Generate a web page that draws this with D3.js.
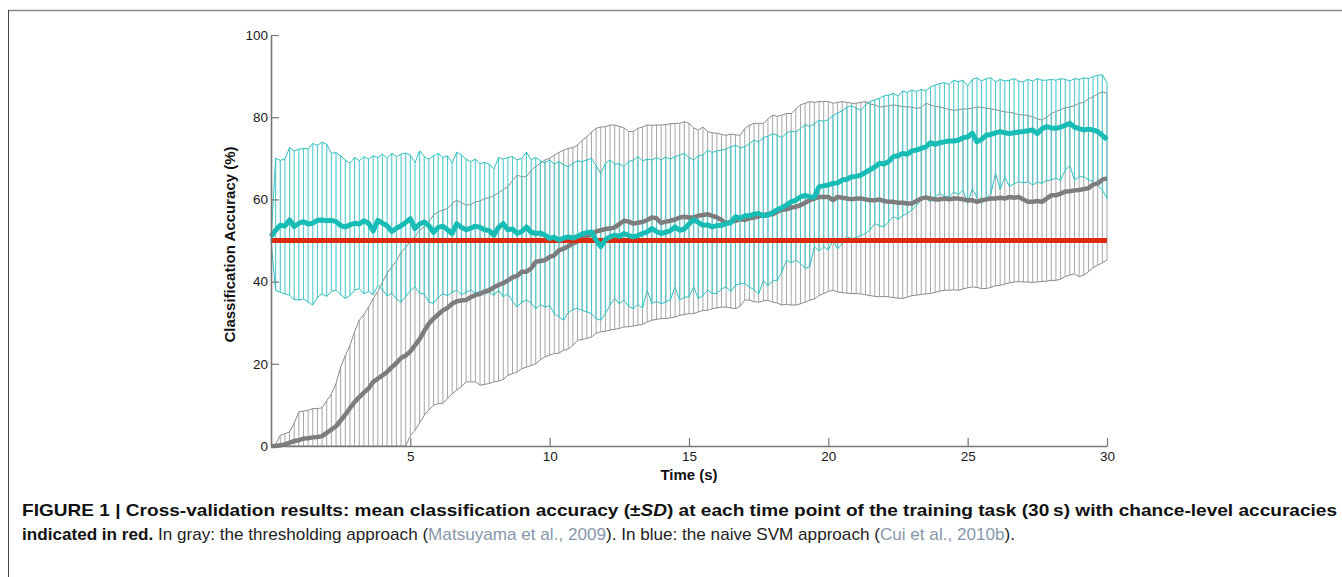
<!DOCTYPE html>
<html>
<head>
<meta charset="utf-8">
<script src="https://cdn.jsdelivr.net/npm/d3@7"></script>
<style>
    body { margin: 0; background: #fff; }
    svg text { font-family: 'Liberation Sans', Arial, Helvetica, sans-serif; }
    .caption { font-family: 'Liberation Sans Narrow', 'Arial Narrow', 'Liberation Sans', Arial, sans-serif; }
</style>
</head>
<body>
<div id="wrapper"></div>
<script>

// samples every 1/6 s from 0 to 30 s
const sampleRate = 6;

// thresholding approach (gray): mean and mean +/- SD
const grayMean = [0,
    0.0, 0.2, 0.4, 0.8, 1.2, 1.4, 1.8, 1.9, 2.1, 2.2, 2.4, 3.2,
    4.0, 4.8, 6.2, 7.6, 9.2, 10.7, 11.9, 13.0, 14.0, 15.6, 16.4, 17.2,
    18.0, 19.2, 20.2, 21.4, 22.0, 23.0, 24.5, 26.0, 28.0, 29.8, 31.0, 32.0,
    33.0, 33.6, 34.6, 35.2, 35.4, 35.5, 36.2, 36.7, 37.0, 37.6, 37.9, 38.6,
    39.2, 39.6, 40.3, 41.0, 41.4, 42.4, 42.4, 43.2, 44.8, 45.0, 45.2, 46.0,
    46.4, 47.6, 48.0, 48.6, 49.3, 49.8, 50.5, 50.9, 51.6, 52.2, 52.5, 52.8,
    52.9, 53.2, 54.0, 54.8, 54.6, 54.1, 54.3, 54.5, 55.0, 55.6, 55.4, 54.3,
    54.6, 54.8, 55.1, 55.6, 55.8, 55.6, 55.6, 56.0, 56.2, 56.4, 56.0, 55.6,
    55.0, 54.1, 54.6, 54.8, 55.2, 55.0, 55.4, 55.6, 55.9, 56.2, 56.4, 56.4,
    57.0, 57.5, 57.6, 58.0, 58.2, 58.6, 59.2, 59.8, 60.2, 60.6, 60.6, 60.6,
    59.8, 60.6, 60.4, 60.2, 60.0, 60.2, 60.2, 60.0, 59.8, 59.8, 60.0, 59.6,
    59.4, 59.4, 59.2, 59.2, 59.0, 59.0, 59.6, 60.2, 60.5, 60.2, 60.0, 60.0,
    60.2, 60.0, 60.2, 60.2, 60.0, 59.8, 59.8, 59.4, 59.8, 60.0, 60.2, 60.2,
    60.4, 60.2, 60.6, 60.4, 60.6, 60.0, 59.4, 59.4, 59.6, 59.4, 60.2, 61.0,
    61.0, 61.4, 61.9, 62.0, 62.2, 62.3, 62.5, 62.7, 63.6, 63.9, 64.8, 65.1
];

const grayUpper = [0,
    0.5, 2.6, 3.0, 3.4, 5.6, 8.3, 8.5, 8.7, 9.1, 9.1, 9.3, 11.0,
    12.7, 15.2, 19.2, 22.0, 24.5, 27.8, 30.6, 32.0, 33.8, 35.9, 37.6, 39.9,
    42.0, 43.6, 45.0, 47.2, 48.2, 50.0, 50.9, 52.5, 53.4, 54.6, 56.2, 57.0,
    57.4, 57.8, 59.0, 59.8, 59.2, 58.6, 58.8, 59.4, 59.6, 60.2, 60.4, 61.0,
    61.6, 62.4, 63.1, 64.6, 65.9, 65.5, 65.5, 67.1, 68.0, 68.8, 69.6, 70.0,
    70.8, 71.4, 72.0, 72.4, 72.6, 73.2, 74.4, 75.2, 76.4, 77.3, 77.6, 77.7,
    78.1, 78.1, 77.8, 77.4, 76.5, 76.5, 77.3, 77.6, 78.1, 78.0, 78.1, 78.1,
    78.2, 78.4, 78.5, 78.5, 78.9, 78.5, 77.4, 76.9, 77.6, 76.5, 76.2, 76.1,
    75.8, 75.6, 75.9, 75.7, 75.6, 77.2, 78.1, 78.5, 78.5, 78.5, 79.6, 80.5,
    80.2, 80.5, 80.9, 80.9, 82.0, 83.0, 83.4, 83.8, 83.6, 83.8, 83.8, 83.8,
    83.4, 83.6, 83.8, 83.6, 83.4, 83.4, 83.6, 83.8, 83.2, 83.0, 82.5, 82.6,
    82.8, 83.0, 82.8, 82.6, 82.5, 82.5, 82.1, 82.4, 83.4, 83.0, 82.6, 82.5,
    82.2, 81.9, 81.7, 81.8, 82.0, 82.0, 82.2, 82.5, 82.4, 82.2, 82.0, 81.8,
    81.6, 81.3, 81.2, 81.0, 80.6, 80.6, 80.4, 80.1, 79.6, 79.3, 80.0, 80.9,
    81.4, 81.8, 82.3, 82.5, 82.8, 83.4, 83.6, 84.4, 85.0, 85.6, 86.2, 85.8
];

const grayLower = [0,
    0, 0, 0, 0, 0, 0, 0, 0, 0, 0, 0, 0,
    0, 0, 0, 0, 0, 0, 0, 0, 0, 0, 0, 0,
    0, 0, 0, 0, 0, 2.5, 3.8, 5.6, 7.5, 8.8, 9.9, 10.3,
    10.4, 11.5, 12.7, 13.6, 14.4, 15.6, 15.6, 15.6, 14.8, 15.0, 15.2, 15.6,
    15.8, 16.2, 17.2, 17.6, 18.0, 18.8, 19.2, 19.6, 20.0, 21.0, 21.7, 22.1,
    22.5, 22.6, 23.3, 23.6, 24.5, 25.7, 25.9, 26.2, 26.5, 27.4, 27.8, 27.9,
    28.2, 28.4, 28.6, 29.0, 29.0, 29.2, 29.4, 29.6, 30.2, 30.6, 30.8, 31.0,
    31.0, 31.2, 31.4, 31.8, 32.0, 32.2, 32.2, 32.6, 33.0, 33.0, 33.4, 33.6,
    33.8, 33.8, 33.6, 33.4, 34.0, 35.5, 35.5, 35.1, 35.0, 35.3, 35.5, 35.0,
    34.8, 34.3, 34.5, 34.3, 34.3, 34.6, 35.0, 35.5, 35.8, 36.6, 37.1, 37.6,
    37.9, 37.5, 37.3, 37.2, 37.1, 37.1, 37.0, 36.8, 36.6, 36.4, 36.3, 36.4,
    36.3, 36.1, 36.0, 35.9, 36.2, 36.6, 36.7, 36.9, 37.0, 37.1, 37.4, 37.7,
    37.9, 37.9, 38.0, 37.9, 38.2, 38.5, 38.7, 38.6, 38.3, 38.3, 38.6, 39.0,
    39.1, 39.4, 39.7, 39.9, 40.0, 39.9, 39.9, 39.8, 39.9, 40.0, 40.1, 40.3,
    40.3, 40.6, 41.2, 41.6, 41.9, 41.2, 41.6, 42.4, 43.4, 44.0, 44.6, 45.2
];

// naive SVM approach (blue): mean and mean +/- SD
const cyanMean = [51,
    52.5, 53.7, 53.5, 55.0, 53.4, 54.2, 54.6, 54.0, 54.2, 54.9, 55.0, 54.8,
    54.9, 54.6, 53.6, 53.3, 53.8, 54.2, 54.0, 54.8, 54.2, 52.3, 54.9, 54.2,
    53.6, 52.2, 53.0, 53.6, 54.4, 55.3, 52.9, 54.0, 54.5, 53.6, 52.0, 53.2,
    53.5, 52.6, 51.7, 54.1, 53.2, 52.6, 53.0, 53.5, 53.2, 52.6, 52.4, 51.3,
    53.2, 54.1, 52.6, 52.8, 51.7, 52.2, 53.3, 52.0, 51.7, 51.8, 51.3, 50.5,
    50.8, 50.1, 50.6, 50.9, 50.6, 51.0, 51.6, 51.9, 52.1, 50.1, 48.5, 50.2,
    50.9, 51.3, 51.0, 51.7, 51.2, 50.9, 51.2, 51.7, 52.1, 52.9, 52.2, 51.7,
    52.0, 52.4, 53.3, 52.5, 52.8, 54.0, 55.1, 54.4, 53.7, 53.8, 53.3, 53.6,
    53.7, 54.1, 54.3, 55.8, 55.4, 56.0, 56.0, 56.4, 56.6, 56.0, 56.2, 56.8,
    57.5, 58.0, 58.6, 59.4, 59.8, 60.6, 61.0, 60.6, 60.6, 63.1, 63.3, 63.5,
    63.9, 64.0, 64.7, 64.9, 65.5, 65.6, 65.9, 66.6, 67.2, 67.9, 68.8, 68.6,
    69.2, 70.4, 70.6, 71.2, 71.0, 71.8, 72.0, 72.4, 72.8, 73.8, 73.4, 73.8,
    74.0, 74.2, 74.2, 74.4, 75.0, 75.2, 76.1, 74.0, 74.6, 75.6, 75.8, 76.2,
    76.5, 76.2, 76.0, 76.2, 76.4, 76.5, 76.7, 76.9, 76.0, 77.2, 77.7, 77.4,
    77.3, 77.6, 78.0, 78.5, 77.6, 77.2, 76.9, 77.1, 76.9, 76.5, 75.6, 74.6
];

const cyanUpper = [50,
    70.0, 69.5, 69.8, 72.6, 71.8, 72.2, 72.4, 72.3, 73.6, 73.2, 73.9, 73.4,
    71.2, 71.4, 70.6, 69.6, 68.8, 70.2, 69.4, 70.4, 69.8, 70.6, 70.2, 71.0,
    70.0, 71.2, 70.4, 71.0, 71.3, 70.8, 68.9, 71.8, 70.4, 69.8, 70.6, 71.2,
    70.2, 70.6, 68.9, 71.5, 70.8, 69.8, 69.2, 69.8, 68.7, 69.0, 68.6, 67.4,
    70.2, 69.8, 70.2, 70.4, 69.6, 70.0, 71.5, 69.6, 70.2, 69.4, 68.9, 69.6,
    68.6, 69.2, 68.4, 68.0, 68.8, 69.4, 69.2, 69.6, 70.0, 68.2, 66.3, 68.8,
    69.6, 68.6, 68.7, 68.0, 69.2, 69.6, 70.4, 69.4, 69.8, 69.6, 70.2, 69.6,
    70.3, 69.8, 70.4, 70.8, 71.2, 70.2, 69.6, 70.6, 70.8, 72.0, 71.4, 71.8,
    72.0, 72.3, 72.8, 73.2, 72.6, 72.8, 73.6, 74.4, 74.0, 75.0, 75.4, 76.0,
    75.6, 75.0, 76.2, 76.6, 76.4, 77.2, 78.2, 77.8, 78.4, 79.3, 79.0, 79.4,
    80.4, 81.0, 81.6, 82.4, 82.8, 82.2, 81.7, 83.0, 83.8, 84.2, 84.6, 85.2,
    85.4, 85.8, 85.2, 86.4, 86.0, 86.6, 86.2, 86.8, 86.4, 87.4, 87.8, 88.2,
    88.4, 88.0, 89.0, 88.6, 89.0, 87.6, 89.2, 89.6, 88.8, 89.4, 89.6, 88.6,
    89.2, 88.8, 89.0, 89.4, 88.8, 88.6, 89.2, 88.8, 89.4, 89.0, 89.0, 89.2,
    89.0, 89.4, 89.2, 88.8, 89.4, 89.2, 89.6, 89.4, 89.9, 90.2, 90.3, 88.4
];

const cyanLower = [50,
    37.9, 37.4, 37.0, 36.7, 35.6, 35.5, 35.8, 35.0, 34.3, 36.2, 37.0, 36.4,
    37.6, 37.9, 36.8, 35.9, 36.6, 37.9, 38.3, 37.0, 37.6, 36.8, 39.1, 38.0,
    36.5, 37.2, 35.8, 35.0, 36.4, 37.8, 38.7, 37.2, 37.0, 35.0, 34.7, 36.2,
    37.0, 36.6, 37.4, 37.9, 36.8, 37.4, 37.9, 37.2, 37.6, 37.0, 37.4, 36.6,
    37.9, 36.3, 37.0, 35.2, 33.8, 35.0, 35.5, 34.8, 33.4, 34.4, 33.8, 34.2,
    32.2, 31.4, 30.6, 32.4, 33.2, 33.5, 33.0, 32.6, 32.2, 31.0, 30.6, 32.2,
    34.3, 35.9, 34.6, 35.5, 34.0, 33.4, 34.4, 33.6, 37.9, 34.7, 35.2, 34.6,
    35.0, 35.6, 38.7, 35.5, 36.2, 36.3, 38.7, 35.9, 36.6, 37.9, 37.1, 37.1,
    38.2, 38.7, 37.6, 39.1, 39.5, 39.5, 38.7, 38.0, 37.0, 40.3, 39.0, 40.3,
    40.3, 42.4, 45.2, 44.6, 45.2, 44.4, 43.2, 43.6, 48.5, 47.4, 48.5, 47.7,
    50.0, 48.0, 49.2, 51.0, 50.4, 50.7, 51.2, 51.7, 52.6, 54.1, 53.6, 53.3,
    54.6, 55.8, 55.2, 56.0, 56.6, 57.4, 58.6, 59.8, 60.2, 59.4, 60.6, 61.4,
    60.8, 60.6, 61.8, 61.2, 62.3, 59.0, 62.6, 60.4, 59.0, 60.2, 61.4, 66.4,
    62.4, 65.5, 63.1, 63.8, 64.3, 64.0, 64.3, 63.5, 64.2, 63.9, 64.6, 64.7,
    65.2, 64.6, 67.1, 68.2, 64.7, 65.5, 65.5, 64.8, 64.3, 63.4, 62.3, 60.2
];

const chanceLevel = 50;
const timeDomain = [0, 30];
const accuracyDomain = [0, 100];
const xTicks = [5, 10, 15, 20, 25, 30];
const yTicks = [0, 20, 40, 60, 80, 100];

function drawFigure() {

    // 1. Dimensions
    const dimensions = {
        width: 1342,
        height: 577,
        margin: {
            top: 35,
            right: 235,
            bottom: 131,
            left: 271,
        },
    };
    dimensions.boundedWidth = dimensions.width - dimensions.margin.left - dimensions.margin.right;
    dimensions.boundedHeight = dimensions.height - dimensions.margin.top - dimensions.margin.bottom;

    // 2. Draw canvas
    const wrapper = d3.select('#wrapper')
        .append('svg')
        .attr('width', dimensions.width)
        .attr('height', dimensions.height);

    // figure frame (top rule + left rule)
    wrapper.append('line')
        .attr('x1', 8).attr('x2', dimensions.width)
        .attr('y1', 10.5).attr('y2', 10.5)
        .attr('stroke', '#888').attr('stroke-width', 1.6);
    wrapper.append('line')
        .attr('x1', 8.5).attr('x2', 8.5)
        .attr('y1', 10).attr('y2', dimensions.height)
        .attr('stroke', '#444').attr('stroke-width', 1);

    const bounds = wrapper.append('g')
        .attr('transform', `translate(${dimensions.margin.left}, ${dimensions.margin.top})`);

    // 3. Scales
    const times = d3.range(grayMean.length).map(i => i / sampleRate);

    const xScale = d3.scaleLinear()
        .domain(timeDomain)
        .range([0, dimensions.boundedWidth]);

    const yScale = d3.scaleLinear()
        .domain(accuracyDomain)
        .range([dimensions.boundedHeight, 0]);

    const groups = [
        { mean: grayMean, upper: grayUpper, lower: grayLower,
          hatch: '#9c9c9c', hatchWidth: 0.9, edge: '#8a8a8a', line: '#7d7d7d', lineWidth: 4.5 },
        { mean: cyanMean, upper: cyanUpper, lower: cyanLower,
          hatch: '#4fcbcd', hatchWidth: 1.1, edge: '#2fbfbf', line: '#17bdb5', lineWidth: 5 },
    ];

    const lineFor = values => d3.line()
        .x((d, i) => xScale(times[i]))
        .y(d => yScale(d))(values);

    // 4. Draw data: SD bands as vertical hatch lines with thin edges
    groups.forEach(g => {
        bounds.append('g')
            .selectAll('line')
            .data(times)
            .join('line')
            .attr('x1', d => xScale(d))
            .attr('x2', d => xScale(d))
            .attr('y1', (d, i) => yScale(g.lower[i]))
            .attr('y2', (d, i) => yScale(g.upper[i]))
            .attr('stroke', g.hatch)
            .attr('stroke-width', g.hatchWidth);

        [g.upper, g.lower].forEach(edge => {
            bounds.append('path')
                .attr('d', lineFor(edge))
                .attr('fill', 'none')
                .attr('stroke', g.edge)
                .attr('stroke-width', 1);
        });
    });

    // gray mean
    bounds.append('path')
        .attr('d', lineFor(groups[0].mean))
        .attr('fill', 'none')
        .attr('stroke', groups[0].line)
        .attr('stroke-width', groups[0].lineWidth)
        .attr('stroke-linejoin', 'round');

    // chance level
    bounds.append('line')
        .attr('x1', xScale(timeDomain[0]))
        .attr('x2', xScale(timeDomain[1]))
        .attr('y1', yScale(chanceLevel))
        .attr('y2', yScale(chanceLevel))
        .attr('stroke', '#dc2a0e')
        .attr('stroke-width', 5);

    // blue mean
    bounds.append('path')
        .attr('d', lineFor(groups[1].mean))
        .attr('fill', 'none')
        .attr('stroke', groups[1].line)
        .attr('stroke-width', groups[1].lineWidth)
        .attr('stroke-linejoin', 'round');

    // 5. Draw peripherals
    const yAxisGenerator = d3.axisLeft()
        .scale(yScale)
        .tickValues(yTicks)
        .tickSize(-8)
        .tickSizeOuter(0)
        .tickPadding(3);

    const yAxis = bounds.append('g')
        .call(yAxisGenerator);

    const xAxisGenerator = d3.axisBottom()
        .scale(xScale)
        .tickValues(xTicks)
        .tickSize(-8)
        .tickSizeOuter(0)
        .tickPadding(5);

    const xAxis = bounds.append('g')
        .call(xAxisGenerator)
        .attr('transform', `translate(0, ${dimensions.boundedHeight})`);

    [xAxis, yAxis].forEach(axis => {
        axis.select('.domain').attr('stroke', '#777').attr('stroke-width', 1.6);
        axis.selectAll('.tick line').attr('stroke', '#777').attr('stroke-width', 1.2);
        axis.selectAll('.tick text')
            .attr('fill', '#1a1a1a')
            .style('font-size', '13.5px')
            .style('font-family', "'Liberation Sans', Arial, sans-serif");
    });

    bounds.append('text')
        .attr('transform', `translate(-36, ${dimensions.boundedHeight / 2 + 4}) rotate(-90)`)
        .attr('text-anchor', 'middle')
        .style('font-size', '15px')
        .style('font-weight', 'bold')
        .attr('fill', '#111')
        .text('Classification Accuracy (%)');

    bounds.append('text')
        .attr('x', xScale(15))
        .attr('y', dimensions.boundedHeight + 34)
        .attr('text-anchor', 'middle')
        .style('font-size', '15px')
        .style('font-weight', 'bold')
        .attr('fill', '#111')
        .text('Time (s)');

    // 6. Caption
    const line1 = wrapper.append('text')
        .attr('class', 'caption')
        .attr('x', 22)
        .attr('y', 516)
        .attr('textLength', 1315)
        .attr('lengthAdjust', 'spacingAndGlyphs')
        .style('font-size', '17px')
        .style('font-weight', 'bold')
        .attr('fill', '#111');
    line1.append('tspan').text('FIGURE 1 | Cross-validation results: mean classification accuracy (\u00b1');
    line1.append('tspan').style('font-style', 'italic').text('SD');
    line1.append('tspan').text(') at each time point of the training task (30\u2009s) with chance-level accuracies');

    const line2 = wrapper.append('text')
        .attr('class', 'caption')
        .attr('x', 22)
        .attr('y', 540)
        .attr('textLength', 993)
        .attr('lengthAdjust', 'spacingAndGlyphs')
        .style('font-size', '17px')
        .attr('fill', '#222');
    line2.append('tspan').style('font-weight', 'bold').attr('fill', '#111').text('indicated in red.');
    line2.append('tspan').text(' In gray: the thresholding approach (');
    line2.append('tspan').attr('fill', '#8797aa').text('Matsuyama et al., 2009');
    line2.append('tspan').text('). In blue: the naive SVM approach (');
    line2.append('tspan').attr('fill', '#8797aa').text('Cui et al., 2010b');
    line2.append('tspan').text(').');
}

drawFigure();
</script>
</body>
</html>
